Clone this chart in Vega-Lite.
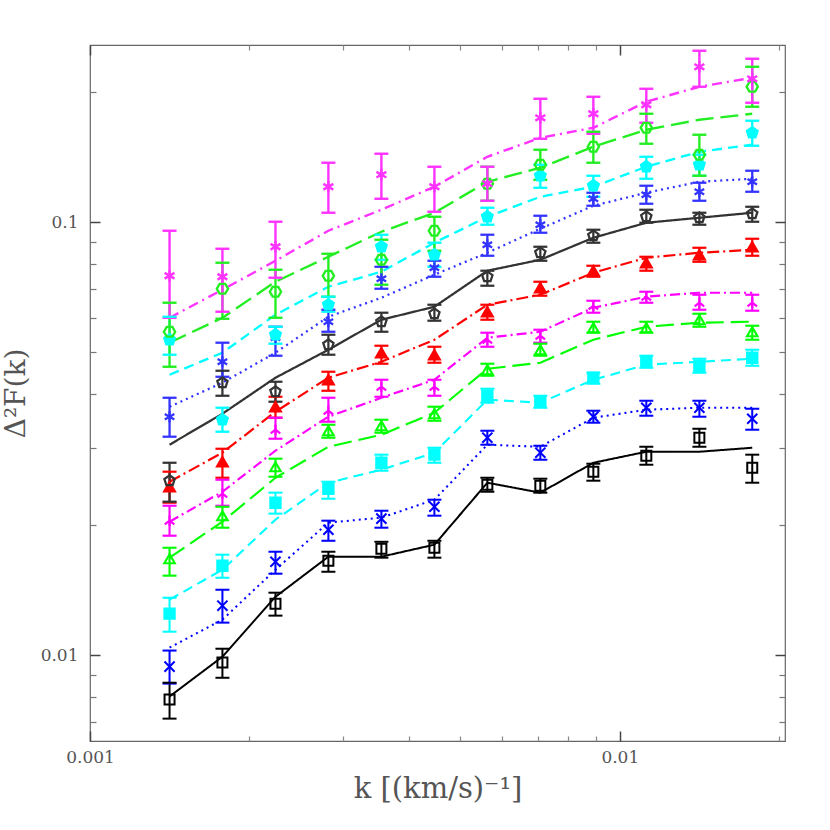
{
  "$schema": "https://vega.github.io/schema/vega-lite/v6.json",
  "description": "Flux power spectrum with model curves",
  "width": 695,
  "height": 696,
  "autosize": "none",
  "padding": {"left": 90, "top": 45, "right": 45, "bottom": 89},
  "background": "white",
  "config": {
    "view": {"stroke": "#666666", "strokeWidth": 1.2},
    "legend": {"disable": true},
    "axis": {"grid": false, "domain": false, "labelFont": "DejaVu Serif", "labelFontSize": 17, "titleFont": "DejaVu Serif", "labelColor": "#555555", "titleColor": "#555555", "titleFontWeight": "normal"}
  },
  "data": {"values": [
    {"s":"s1","k":0.001413,"v":0.00789,"lo":0.00713,"hi":0.00863,"m":0.00802},
    {"s":"s1","k":0.001778,"v":0.00961,"lo":0.00886,"hi":0.01034,"m":0.00991},
    {"s":"s1","k":0.002239,"v":0.01314,"lo":0.01233,"hi":0.01393,"m":0.01363},
    {"s":"s1","k":0.002818,"v":0.01651,"lo":0.01557,"hi":0.01732,"m":0.01687},
    {"s":"s1","k":0.003548,"v":0.01760,"lo":0.01678,"hi":0.01826,"m":0.01687},
    {"s":"s1","k":0.004467,"v":0.01769,"lo":0.01678,"hi":0.01836,"m":0.01798},
    {"s":"s1","k":0.005623,"v":0.02473,"lo":0.02383,"hi":0.02567,"m":0.02500},
    {"s":"s1","k":0.007079,"v":0.02460,"lo":0.02371,"hi":0.02554,"m":0.02371},
    {"s":"s1","k":0.008913,"v":0.02651,"lo":0.02527,"hi":0.02766,"m":0.02780},
    {"s":"s1","k":0.01122,"v":0.02886,"lo":0.02751,"hi":0.03027,"m":0.02948},
    {"s":"s1","k":0.01413,"v":0.03176,"lo":0.03027,"hi":0.03331,"m":0.02948},
    {"s":"s1","k":0.01778,"v":0.02707,"lo":0.02500,"hi":0.02902,"m":0.03011},

    {"s":"s2","k":0.001413,"v":0.00940,"lo":0.00859,"hi":0.01024,"m":0.01040},
    {"s":"s2","k":0.001778,"v":0.01300,"lo":0.01188,"hi":0.01415,"m":0.01207},
    {"s":"s2","k":0.002239,"v":0.01642,"lo":0.01541,"hi":0.01732,"m":0.01574},
    {"s":"s2","k":0.002818,"v":0.01947,"lo":0.01836,"hi":0.02043,"m":0.02022},
    {"s":"s2","k":0.003548,"v":0.02065,"lo":0.01968,"hi":0.02154,"m":0.02076},
    {"s":"s2","k":0.004467,"v":0.02200,"lo":0.02098,"hi":0.02284,"m":0.02284},
    {"s":"s2","k":0.005623,"v":0.03176,"lo":0.03060,"hi":0.03296,"m":0.03060},
    {"s":"s2","k":0.007079,"v":0.02933,"lo":0.02825,"hi":0.03043,"m":0.03027},
    {"s":"s2","k":0.008913,"v":0.03551,"lo":0.03440,"hi":0.03666,"m":0.03532},
    {"s":"s2","k":0.01122,"v":0.03725,"lo":0.03570,"hi":0.03866,"m":0.03686},
    {"s":"s2","k":0.01413,"v":0.03725,"lo":0.03551,"hi":0.03866,"m":0.03725},
    {"s":"s2","k":0.01778,"v":0.03513,"lo":0.03314,"hi":0.03705,"m":0.03725},

    {"s":"s3","k":0.001413,"v":0.01246,"lo":0.01132,"hi":0.01356,"m":0.01342},
    {"s":"s3","k":0.001778,"v":0.01608,"lo":0.01508,"hi":0.01705,"m":0.01574},
    {"s":"s3","k":0.002239,"v":0.02248,"lo":0.02121,"hi":0.02371,"m":0.02054},
    {"s":"s3","k":0.002818,"v":0.02421,"lo":0.02296,"hi":0.02513,"m":0.02500},
    {"s":"s3","k":0.003548,"v":0.02780,"lo":0.02665,"hi":0.02902,"m":0.02679},
    {"s":"s3","k":0.004467,"v":0.02902,"lo":0.02780,"hi":0.03011,"m":0.02933},
    {"s":"s3","k":0.005623,"v":0.03970,"lo":0.03826,"hi":0.04121,"m":0.03887},
    {"s":"s3","k":0.007079,"v":0.03846,"lo":0.03725,"hi":0.03970,"m":0.03826},
    {"s":"s3","k":0.008913,"v":0.04369,"lo":0.04232,"hi":0.04487,"m":0.04323},
    {"s":"s3","k":0.01122,"v":0.04757,"lo":0.04607,"hi":0.04912,"m":0.04682},
    {"s":"s3","k":0.01413,"v":0.04657,"lo":0.04487,"hi":0.04834,"m":0.04757},
    {"s":"s3","k":0.01778,"v":0.04860,"lo":0.04657,"hi":0.05071,"m":0.04834},

    {"s":"s4","k":0.001413,"v":0.01669,"lo":0.01525,"hi":0.01769,"m":0.01678},
    {"s":"s4","k":0.001778,"v":0.02098,"lo":0.01968,"hi":0.02200,"m":0.02032},
    {"s":"s4","k":0.002239,"v":0.02722,"lo":0.02581,"hi":0.02841,"m":0.02567},
    {"s":"s4","k":0.002818,"v":0.03296,"lo":0.03176,"hi":0.03403,"m":0.03027},
    {"s":"s4","k":0.003548,"v":0.03385,"lo":0.03262,"hi":0.03495,"m":0.03227},
    {"s":"s4","k":0.004467,"v":0.03609,"lo":0.03476,"hi":0.03745,"m":0.03628},
    {"s":"s4","k":0.005623,"v":0.04559,"lo":0.04416,"hi":0.04707,"m":0.04583},
    {"s":"s4","k":0.007079,"v":0.05071,"lo":0.04912,"hi":0.05236,"m":0.04732},
    {"s":"s4","k":0.008913,"v":0.05700,"lo":0.05551,"hi":0.05885,"m":0.05348},
    {"s":"s4","k":0.01122,"v":0.05700,"lo":0.05551,"hi":0.05885,"m":0.05730},
    {"s":"s4","k":0.01413,"v":0.05948,"lo":0.05730,"hi":0.06141,"m":0.05854},
    {"s":"s4","k":0.01778,"v":0.05580,"lo":0.05348,"hi":0.05761,"m":0.05885},

    {"s":"s5","k":0.001413,"v":0.02043,"lo":0.01886,"hi":0.02212,"m":0.02032},
    {"s":"s5","k":0.001778,"v":0.02358,"lo":0.02212,"hi":0.02540,"m":0.02383},
    {"s":"s5","k":0.002239,"v":0.03314,"lo":0.03159,"hi":0.03532,"m":0.02964},
    {"s":"s5","k":0.002818,"v":0.03666,"lo":0.03458,"hi":0.03928,"m":0.03551},
    {"s":"s5","k":0.003548,"v":0.04165,"lo":0.03949,"hi":0.04323,"m":0.03928},
    {"s":"s5","k":0.004467,"v":0.04165,"lo":0.03970,"hi":0.04323,"m":0.04323},
    {"s":"s5","k":0.005623,"v":0.05348,"lo":0.05152,"hi":0.05551,"m":0.05405},
    {"s":"s5","k":0.007079,"v":0.05463,"lo":0.05264,"hi":0.05640,"m":0.05580},
    {"s":"s5","k":0.008913,"v":0.06407,"lo":0.06174,"hi":0.06580,"m":0.06339},
    {"s":"s5","k":0.01122,"v":0.06722,"lo":0.06511,"hi":0.06903,"m":0.06722},
    {"s":"s5","k":0.01413,"v":0.06511,"lo":0.06273,"hi":0.06794,"m":0.06867},
    {"s":"s5","k":0.01778,"v":0.06511,"lo":0.06240,"hi":0.06794,"m":0.06867},

    {"s":"s6","k":0.001413,"v":0.02447,"lo":0.02248,"hi":0.02651,"m":0.02513},
    {"s":"s6","k":0.001778,"v":0.02795,"lo":0.02567,"hi":0.02995,"m":0.02933},
    {"s":"s6","k":0.002239,"v":0.03745,"lo":0.03532,"hi":0.03949,"m":0.03647},
    {"s":"s6","k":0.002818,"v":0.04323,"lo":0.04077,"hi":0.04511,"m":0.04369},
    {"s":"s6","k":0.003548,"v":0.04991,"lo":0.04707,"hi":0.05180,"m":0.04757},
    {"s":"s6","k":0.004467,"v":0.04938,"lo":0.04732,"hi":0.05152,"m":0.05348},
    {"s":"s6","k":0.005623,"v":0.06207,"lo":0.05948,"hi":0.06442,"m":0.06442},
    {"s":"s6","k":0.007079,"v":0.07051,"lo":0.06758,"hi":0.07280,"m":0.06794},
    {"s":"s6","k":0.008913,"v":0.07719,"lo":0.07476,"hi":0.07926,"m":0.07637},
    {"s":"s6","k":0.01122,"v":0.08054,"lo":0.07719,"hi":0.08314,"m":0.08270},
    {"s":"s6","k":0.01413,"v":0.08404,"lo":0.08096,"hi":0.08722,"m":0.08494},
    {"s":"s6","k":0.01778,"v":0.08769,"lo":0.08359,"hi":0.09150,"m":0.08630},

    {"s":"s7","k":0.001413,"v":0.02527,"lo":0.02260,"hi":0.02780,"m":0.03060},
    {"s":"s7","k":0.001778,"v":0.04255,"lo":0.03970,"hi":0.04535,"m":0.03609},
    {"s":"s7","k":0.002239,"v":0.04056,"lo":0.03846,"hi":0.04277,"m":0.04369},
    {"s":"s7","k":0.002818,"v":0.05208,"lo":0.04938,"hi":0.05492,"m":0.05071},
    {"s":"s7","k":0.003548,"v":0.05885,"lo":0.05580,"hi":0.06174,"m":0.05948},
    {"s":"s7","k":0.004467,"v":0.06141,"lo":0.05917,"hi":0.06442,"m":0.06373},
    {"s":"s7","k":0.005623,"v":0.07476,"lo":0.07127,"hi":0.07719,"m":0.07719},
    {"s":"s7","k":0.007079,"v":0.08494,"lo":0.08140,"hi":0.08769,"m":0.08183},
    {"s":"s7","k":0.008913,"v":0.09298,"lo":0.08958,"hi":0.09599,"m":0.09199},
    {"s":"s7","k":0.01122,"v":0.10285,"lo":0.09963,"hi":0.10676,"m":0.09963},
    {"s":"s7","k":0.01413,"v":0.10231,"lo":0.09858,"hi":0.10507,"m":0.10231},
    {"s":"s7","k":0.01778,"v":0.10452,"lo":0.10016,"hi":0.10847,"m":0.10507},

    {"s":"s8","k":0.001413,"v":0.03551,"lo":0.03193,"hi":0.03928,"m":0.03745},
    {"s":"s8","k":0.001778,"v":0.04757,"lo":0.04392,"hi":0.05264,"m":0.04255},
    {"s":"s8","k":0.002239,"v":0.05405,"lo":0.04912,"hi":0.05730,"m":0.04991},
    {"s":"s8","k":0.002818,"v":0.05885,"lo":0.05580,"hi":0.06273,"m":0.06043},
    {"s":"s8","k":0.003548,"v":0.07397,"lo":0.07014,"hi":0.07883,"m":0.06686},
    {"s":"s8","k":0.004467,"v":0.07842,"lo":0.07476,"hi":0.08140,"m":0.07557},
    {"s":"s8","k":0.005623,"v":0.08864,"lo":0.08359,"hi":0.09348,"m":0.08494},
    {"s":"s8","k":0.007079,"v":0.09858,"lo":0.09447,"hi":0.10341,"m":0.09649},
    {"s":"s8","k":0.008913,"v":0.11318,"lo":0.10906,"hi":0.11686,"m":0.10906},
    {"s":"s8","k":0.01122,"v":0.11563,"lo":0.11023,"hi":0.12130,"m":0.11686},
    {"s":"s8","k":0.01413,"v":0.11748,"lo":0.11199,"hi":0.12325,"m":0.12390},
    {"s":"s8","k":0.01778,"v":0.12390,"lo":0.11748,"hi":0.13137,"m":0.12589},

    {"s":"s9","k":0.001413,"v":0.05348,"lo":0.04938,"hi":0.06043,"m":0.04440},
    {"s":"s9","k":0.001778,"v":0.03495,"lo":0.03279,"hi":0.03725,"m":0.04991},
    {"s":"s9","k":0.002239,"v":0.05492,"lo":0.05236,"hi":0.05730,"m":0.06109},
    {"s":"s9","k":0.002818,"v":0.06442,"lo":0.06207,"hi":0.06722,"m":0.07089},
    {"s":"s9","k":0.003548,"v":0.08769,"lo":0.08183,"hi":0.09348,"m":0.07678},
    {"s":"s9","k":0.004467,"v":0.08404,"lo":0.07883,"hi":0.08958,"m":0.08958},
    {"s":"s9","k":0.005623,"v":0.10285,"lo":0.09858,"hi":0.10790,"m":0.10285},
    {"s":"s9","k":0.007079,"v":0.12792,"lo":0.12001,"hi":0.13563,"m":0.11440},
    {"s":"s9","k":0.008913,"v":0.12130,"lo":0.11440,"hi":0.12792,"m":0.12065},
    {"s":"s9","k":0.01122,"v":0.13418,"lo":0.12589,"hi":0.14151,"m":0.13418},
    {"s":"s9","k":0.01413,"v":0.13563,"lo":0.12792,"hi":0.14304,"m":0.14533},
    {"s":"s9","k":0.01778,"v":0.16079,"lo":0.15005,"hi":0.17138,"m":0.15085},

    {"s":"s10","k":0.001413,"v":0.05580,"lo":0.04632,"hi":0.06511,"m":0.05264},
    {"s":"s10","k":0.001778,"v":0.07014,"lo":0.05979,"hi":0.08054,"m":0.06011},
    {"s":"s10","k":0.002239,"v":0.06903,"lo":0.06011,"hi":0.07760,"m":0.07280},
    {"s":"s10","k":0.002818,"v":0.07516,"lo":0.06722,"hi":0.08449,"m":0.08314},
    {"s":"s10","k":0.003548,"v":0.08183,"lo":0.07165,"hi":0.09102,"m":0.09498},
    {"s":"s10","k":0.004467,"v":0.09548,"lo":0.08584,"hi":0.10285,"m":0.10507},
    {"s":"s10","k":0.005623,"v":0.12260,"lo":0.11199,"hi":0.13418,"m":0.12390},
    {"s":"s10","k":0.007079,"v":0.13563,"lo":0.12523,"hi":0.14689,"m":0.13347},
    {"s":"s10","k":0.008913,"v":0.14924,"lo":0.13708,"hi":0.16164,"m":0.14924},
    {"s":"s10","k":0.01122,"v":0.16511,"lo":0.15166,"hi":0.17788,"m":0.16337},
    {"s":"s10","k":0.01413,"v":0.14304,"lo":0.12792,"hi":0.15909,"m":0.17229},
    {"s":"s10","k":0.01778,"v":0.20533,"lo":0.18462,"hi":0.22837,"m":0.17788},

    {"s":"s11","k":0.001413,"v":0.07516,"lo":0.06011,"hi":0.09548,"m":0.06011},
    {"s":"s11","k":0.001778,"v":0.07476,"lo":0.06207,"hi":0.08676,"m":0.06977},
    {"s":"s11","k":0.002239,"v":0.08769,"lo":0.07437,"hi":0.10016,"m":0.08140},
    {"s":"s11","k":0.002818,"v":0.12065,"lo":0.10507,"hi":0.13708,"m":0.09548},
    {"s":"s11","k":0.003548,"v":0.12862,"lo":0.11318,"hi":0.14381,"m":0.10676},
    {"s":"s11","k":0.004467,"v":0.12065,"lo":0.10563,"hi":0.13418,"m":0.12065},
    {"s":"s11","k":0.005623,"v":0.12260,"lo":0.11199,"hi":0.13418,"m":0.14151},
    {"s":"s11","k":0.007079,"v":0.17412,"lo":0.15573,"hi":0.19263,"m":0.15655},
    {"s":"s11","k":0.008913,"v":0.17788,"lo":0.15994,"hi":0.19469,"m":0.16511},
    {"s":"s11","k":0.01122,"v":0.18661,"lo":0.16957,"hi":0.20316,"m":0.18960},
    {"s":"s11","k":0.01413,"v":0.22837,"lo":0.20533,"hi":0.24868,"m":0.20533},
    {"s":"s11","k":0.01778,"v":0.21425,"lo":0.18860,"hi":0.23830,"m":0.21540}
  ]},
  "resolve": {"axis": {"x": "independent", "y": "independent"}},
  "layer": [
    {
      "mark": {"type": "line", "strokeCap": "butt", "clip": true},
      "encoding": {
        "x": {"field": "k", "type": "quantitative", "scale": {"type": "log", "domain": [0.001, 0.0205], "nice": false},
          "axis": {"orient": "bottom", "values": [0.001, 0.01], "format": "~g", "ticks": false, "labelFontSize": 17, "labelPadding": 8, "labelFlush": false, "title": "k  [(km/s)⁻¹]", "titleFontSize": 29, "titlePadding": 9}},
        "y": {"field": "m", "type": "quantitative", "scale": {"type": "log", "domain": [0.00633, 0.2564], "nice": false},
          "axis": {"orient": "left", "values": [0.01, 0.1], "format": "~g", "ticks": false, "labelFontSize": 17, "labelPadding": 12, "labelFlush": false, "title": "Δ²F(k)", "titleFontSize": 28, "titlePadding": 10}},
        "color": {"field": "s", "type": "nominal", "scale": {"domain": ["s1","s2","s3","s4","s5","s6","s7","s8","s9","s10","s11"], "range": ["#000000","#0000ff","#00ffff","#00ff00","#ff00ff","#ff0000","#333333","#3333ff","#00ffff","#22ee22","#ff33ff"]}},
        "strokeDash": {"field": "s", "type": "nominal", "scale": {"domain": ["s1","s2","s3","s4","s5","s6","s7","s8","s9","s10","s11"], "range": [[1,0],[2,4],[10,6],[18,7],[10,4,2,4],[12,4,2,4],[1,0],[2,4],[10,6],[18,7],[10,5,2,5]]}},
        "strokeWidth": {"field": "s", "type": "ordinal", "scale": {"domain": ["s1","s2","s3","s4","s5","s6","s7","s8","s9","s10","s11"], "range": [2,2.4,2,2,2,2,1,1.2,1,1,1]}}
      }
    },
    {
      "mark": {"type": "rule"},
      "encoding": {
        "x": {"field": "k", "type": "quantitative", "scale": {"type": "log", "domain": [0.001, 0.0205], "nice": false},
          "axis": {"orient": "bottom", "values": [0.001, 0.01], "labels": false, "tickSize": -10, "tickWidth": 1.5, "tickColor": "#444444", "title": null}},
        "y": {"field": "lo", "type": "quantitative", "scale": {"type": "log", "domain": [0.00633, 0.2564], "nice": false},
          "axis": {"orient": "left", "values": [0.01, 0.1], "labels": false, "tickSize": -10, "tickWidth": 1.5, "tickColor": "#444444", "title": null}},
        "y2": {"field": "hi"},
        "color": {"field": "s", "type": "nominal"},
        "strokeWidth": {"field": "s", "type": "ordinal"}
      }
    },
    {
      "mark": {"type": "point", "filled": false},
      "encoding": {
        "x": {"field": "k", "type": "quantitative", "scale": {"type": "log", "domain": [0.001, 0.0205], "nice": false},
          "axis": {"orient": "bottom", "values": [0.002,0.003,0.004,0.005,0.006,0.007,0.008,0.009,0.02], "labels": false, "tickSize": -5, "tickWidth": 1.2, "tickColor": "#888888", "title": null}},
        "y": {"field": "lo", "type": "quantitative", "scale": {"type": "log", "domain": [0.00633, 0.2564], "nice": false},
          "axis": {"orient": "left", "values": [0.007,0.008,0.009,0.02,0.03,0.04,0.05,0.06,0.07,0.08,0.09,0.2], "labels": false, "tickSize": -6, "tickWidth": 1.2, "tickColor": "#777777", "title": null}},
        "shape": {"value": "M-1,0H1"},
        "size": {"value": 196},
        "opacity": {"value": 1},
        "color": {"field": "s", "type": "nominal"},
        "strokeWidth": {"field": "s", "type": "ordinal"}
      }
    },
    {
      "mark": {"type": "point", "filled": false},
      "encoding": {
        "x": {"field": "k", "type": "quantitative", "scale": {"type": "log", "domain": [0.001, 0.0205], "nice": false},
          "axis": {"orient": "top", "values": [0.001, 0.01], "labels": false, "tickSize": -10, "tickWidth": 1.5, "tickColor": "#444444", "title": null}},
        "y": {"field": "hi", "type": "quantitative", "scale": {"type": "log", "domain": [0.00633, 0.2564], "nice": false},
          "axis": {"orient": "right", "values": [0.01, 0.1], "labels": false, "tickSize": -10, "tickWidth": 1.5, "tickColor": "#444444", "title": null}},
        "shape": {"value": "M-1,0H1"},
        "size": {"value": 196},
        "opacity": {"value": 1},
        "color": {"field": "s", "type": "nominal"},
        "strokeWidth": {"field": "s", "type": "ordinal"}
      }
    },
    {
      "mark": {"type": "point", "opacity": 1},
      "encoding": {
        "x": {"field": "k", "type": "quantitative", "scale": {"type": "log", "domain": [0.001, 0.0205], "nice": false},
          "axis": {"orient": "top", "values": [0.002,0.003,0.004,0.005,0.006,0.007,0.008,0.009,0.02], "labels": false, "tickSize": -5, "tickWidth": 1.2, "tickColor": "#888888", "title": null}},
        "y": {"field": "v", "type": "quantitative", "scale": {"type": "log", "domain": [0.00633, 0.2564], "nice": false},
          "axis": {"orient": "right", "values": [0.007,0.008,0.009,0.02,0.03,0.04,0.05,0.06,0.07,0.08,0.09,0.2], "labels": false, "tickSize": -6, "tickWidth": 1.2, "tickColor": "#777777", "title": null}},
        "shape": {"field": "s", "type": "nominal", "scale": {"domain": ["s1","s2","s3","s4","s5","s6","s7","s8","s9","s10","s11"], "range": ["square", "M-1,-1L1,1M-1,1L1,-1", "square", "triangle-up", "M0,-1V1M-0.9,0.7L0,0L0.9,0.7", "triangle-up", "M0,-1L0.951,-0.309L0.588,0.809L-0.588,0.809L-0.951,-0.309Z", "M0,-1V1M-0.87,-0.5L0.87,0.5M-0.87,0.5L0.87,-0.5", "M0,-1L0.951,-0.309L0.588,0.809L-0.588,0.809L-0.951,-0.309Z", "M-1,0L-0.5,-0.866L0.5,-0.866L1,0L0.5,0.866L-0.5,0.866Z", "M0,-1V1M-0.87,-0.5L0.87,0.5M-0.87,0.5L0.87,-0.5"]}},
        "size": {"field": "s", "type": "ordinal", "scale": {"domain": ["s1","s2","s3","s4","s5","s6","s7","s8","s9","s10","s11"], "range": [100,130,90,150,220,150,400,300,400,380,300]}},
        "stroke": {"field": "s", "type": "nominal", "scale": {"domain": ["s1","s2","s3","s4","s5","s6","s7","s8","s9","s10","s11"], "range": ["#000000","#0000ff","#00ffff","#00ff00","#ff00ff","#ff0000","#333333","#3333ff","#00ffff","#22ee22","#ff33ff"]}},
        "fill": {"field": "s", "type": "nominal", "scale": {"domain": ["s1","s2","s3","s4","s5","s6","s7","s8","s9","s10","s11"], "range": ["transparent","transparent","#00ffff","transparent","transparent","#ff0000","transparent","transparent","#00ffff","transparent","transparent"]}},
        "strokeWidth": {"field": "s", "type": "ordinal"}
      }
    }
  ]
}
